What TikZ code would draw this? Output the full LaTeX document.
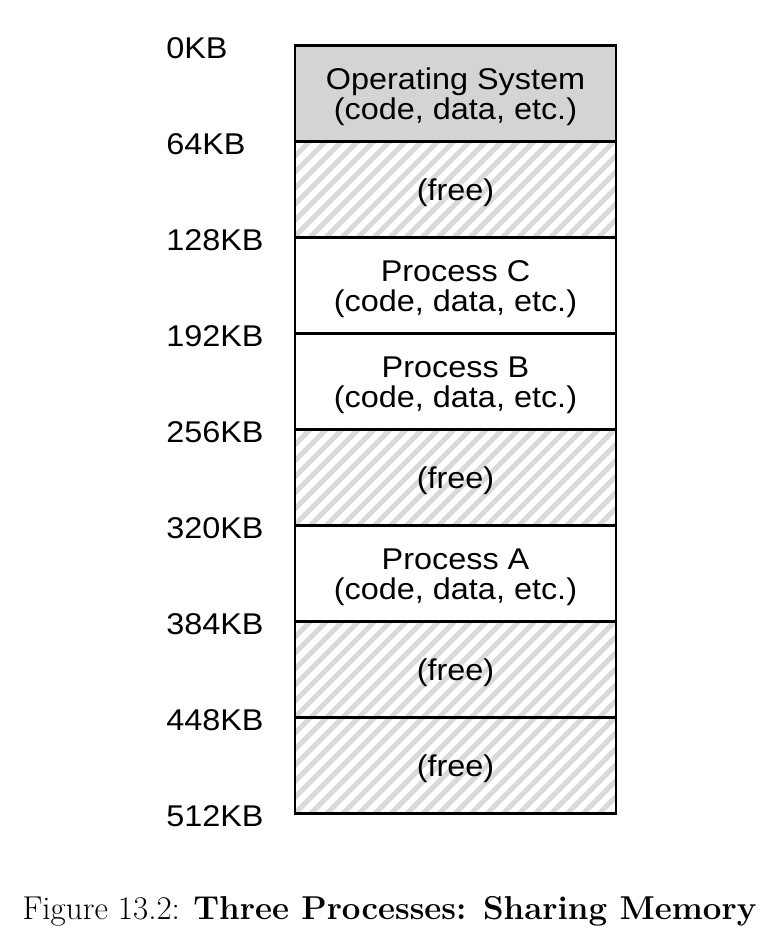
\documentclass[tikz,border=0pt]{standalone}
\usepackage{fontspec}
\setsansfont{Liberation Sans}[FakeStretch=1.08]
\usepackage{xcolor}
\usetikzlibrary{patterns.meta}

\definecolor{osgray}{gray}{0.83}
\definecolor{hatchgray}{gray}{0.85}

\begin{document}
\begin{tikzpicture}[x=0.75pt, y=-0.75pt,
    seg/.style={rectangle, draw, line width=2.2pt, minimum width=240.75pt, minimum height=72pt,
      inner sep=0pt, outer sep=0pt, align=center, text height=43.5pt, font=\sffamily\fontsize{22.5}{22.3}\selectfont},
    freeseg/.style={seg, text height=21pt, pattern={Lines[angle=45, distance=8.5pt, line width=3.8pt]}, pattern color=hatchgray},
    addr/.style={anchor=west, inner sep=0pt, font=\sffamily\fontsize{22.5}{26}\selectfont}]
    \useasboundingbox (0, 0) rectangle (781, 948);

    \node [seg, fill=osgray] (os) at (455.5, 93.7) {Operating System\\(code, data, etc.)};
    \node [freeseg] (free1) at (455.5, 189.7) {(free)};
    \node [seg] (procC) at (455.5, 285.7) {Process C\\(code, data, etc.)};
    \node [seg] (procB) at (455.5, 381.7) {Process B\\(code, data, etc.)};
    \node [freeseg] (free2) at (455.5, 477.7) {(free)};
    \node [seg] (procA) at (455.5, 573.7) {Process A\\(code, data, etc.)};
    \node [freeseg] (free3) at (455.5, 669.7) {(free)};
    \node [freeseg] (free4) at (455.5, 765.7) {(free)};

    \node [addr] (kb0) at (166, 47.7) {0KB};
    \node [addr] (kb64) at (166, 143.7) {64KB};
    \node [addr] (kb128) at (166, 239.7) {128KB};
    \node [addr] (kb192) at (166, 335.7) {192KB};
    \node [addr] (kb256) at (166, 431.7) {256KB};
    \node [addr] (kb320) at (166, 527.7) {320KB};
    \node [addr] (kb384) at (166, 623.7) {384KB};
    \node [addr] (kb448) at (166, 719.7) {448KB};
    \node [addr] (kb512) at (166, 815.7) {512KB};

    \node [anchor=base, inner sep=0pt, font=\fontsize{24.8}{28}\selectfont] (caption) at (389.5, 919)
      {Figure 13.2: \textbf{Three Processes: Sharing Memory}};
  \end{tikzpicture}
\end{document}
